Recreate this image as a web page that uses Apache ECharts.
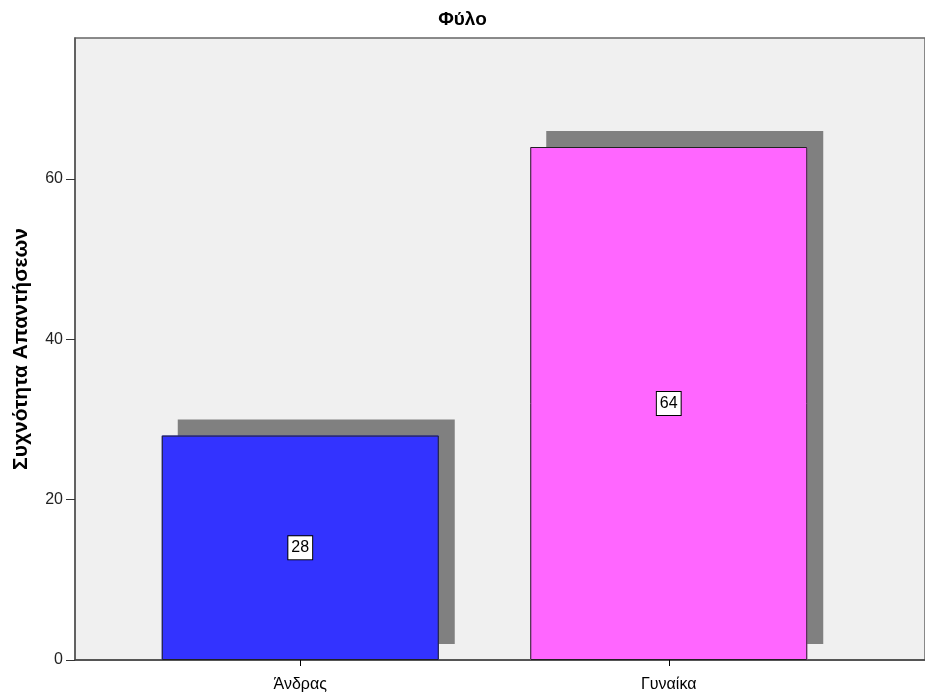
<!DOCTYPE html>
<html>
<head>
<meta charset="utf-8">
<script src="https://cdn.jsdelivr.net/npm/echarts@6/dist/echarts.min.js"></script>
<style>
html,body{margin:0;padding:0;background:#fff;}
#chart{width:925px;height:694px;}
</style>
</head>
<body>
<div id="chart"></div>
<script>
const titleText = 'Φύλο';
const yAxisName = 'Συχνότητα Απαντήσεων';
const categories = ['Άνδρας', 'Γυναίκα'];
const counts = [28, 64];
const barColors = ['#3333ff', '#ff66ff'];
const yTicks = [0, 20, 40, 60];
const yMax = 77.6;

const FONT = '"Liberation Sans", Arial, sans-serif';
const chart = echarts.init(document.getElementById('chart'), null, {renderer: 'canvas'});
const barData = counts.map((v, i) => ({value: v, itemStyle: {color: barColors[i]}}));
chart.setOption({
  animation: false,
  backgroundColor: '#ffffff',
  title: {
    text: titleText,
    left: 'center',
    top: 5,
    textStyle: {fontFamily: FONT, fontSize: 19, fontWeight: 'bold', color: '#000'}
  },
  grid: [
    {left: 75, right: -10, top: 38, bottom: 34, show: true, backgroundColor: '#f0f0f0', borderColor: '#666', borderWidth: 1.5},
    {left: 116, width: 737, top: 38, bottom: 34}
  ],
  xAxis: [
    {gridIndex: 0, type: 'category', data: [''],
     axisLine: {show: true, lineStyle: {color: '#444', width: 1.5}},
     axisTick: {show: false}, axisLabel: {show: false}},
    {gridIndex: 1, type: 'category', data: categories,
     axisLine: {show: false},
     axisTick: {show: true, alignWithLabel: true, length: 6, lineStyle: {color: '#000', width: 1}},
     axisLabel: {fontFamily: FONT, fontSize: 16, color: '#000', margin: 17}}
  ],
  yAxis: [
    {gridIndex: 0, type: 'value', min: 0, max: yMax,
     name: yAxisName, nameLocation: 'middle', nameGap: 43,
     nameTextStyle: {fontFamily: FONT, fontSize: 21, fontWeight: 'bold', color: '#000'},
     axisLine: {show: true, lineStyle: {color: '#555', width: 1.5}},
     axisTick: {show: true, length: 9, customValues: yTicks, lineStyle: {color: '#333'}},
     axisLabel: {fontFamily: FONT, fontSize: 16, color: '#222', margin: 12, customValues: yTicks},
     splitLine: {show: false}},
    {gridIndex: 1, type: 'value', min: 0, max: yMax, show: false, splitLine: {show: false}}
  ],
  series: [{
    type: 'bar',
    xAxisIndex: 1, yAxisIndex: 1,
    barWidth: 277,
    data: barData,
    itemStyle: {borderWidth: 0, shadowColor: '#808080', shadowOffsetX: 16, shadowOffsetY: -16, shadowBlur: 0},
    silent: true,
    emphasis: {disabled: true}
  }, {
    type: 'bar',
    xAxisIndex: 1, yAxisIndex: 1,
    barWidth: 277,
    barGap: '-100%',
    data: barData,
    itemStyle: {borderColor: '#222', borderWidth: 1},
    label: {show: true, position: 'inside', fontFamily: FONT, fontSize: 16, color: '#000',
            backgroundColor: '#fff', borderColor: '#000', borderWidth: 1, padding: [4, 3, 3, 3]},
    emphasis: {disabled: true}
  }]
});
</script>
</body>
</html>
